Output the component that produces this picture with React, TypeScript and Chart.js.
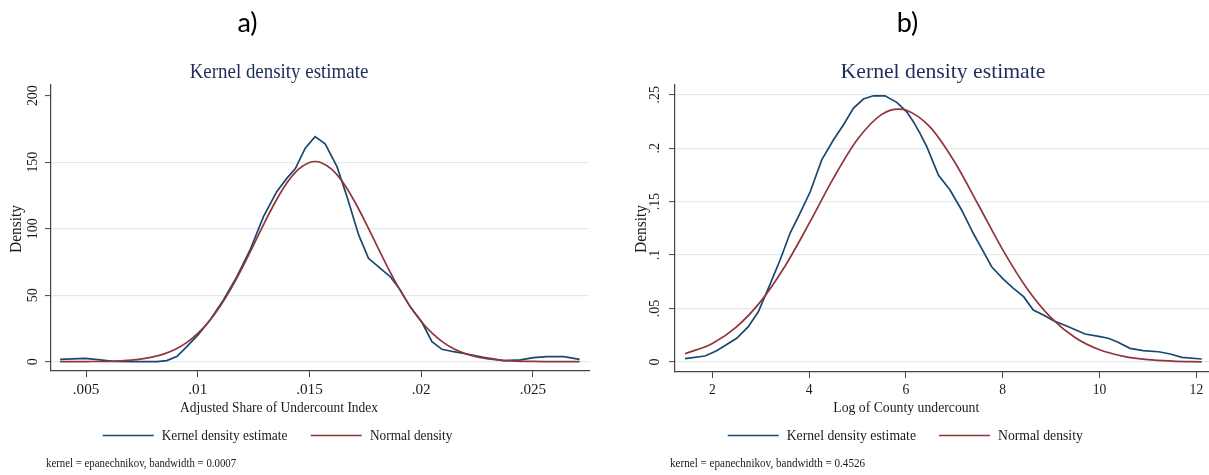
import React, { useEffect, useRef } from "react";
import { Chart, registerables } from "chart.js";

Chart.register(...registerables);

// ---------------- DATA ----------------
const seriesNames = ["Kernel density estimate", "Normal density"];

// Panel a) Adjusted Share of Undercount Index
const aKdeX = [0.00384, 0.00496, 0.00563, 0.00622, 0.00712, 0.00817, 0.00861, 0.00906, 0.00951, 0.0100, 0.01055, 0.01115, 0.01175, 0.01234, 0.01294, 0.01354, 0.01399, 0.01436, 0.01481, 0.01525, 0.0157, 0.01623, 0.01668, 0.0172, 0.01764, 0.01817, 0.01861, 0.01906, 0.0195, 0.02002, 0.02048, 0.02093, 0.02145, 0.02205, 0.02279, 0.02369, 0.02444, 0.02503, 0.02563, 0.02638, 0.02709];
const aKdeY = [1.8, 2.5, 1.3, 0.2, 0.0, 0.0, 0.8, 3.8, 11.3, 20, 31.4, 46.4, 64, 84, 109, 128, 138, 145, 160.5, 169.2, 163.7, 146.6, 124, 95.3, 77.7, 70.2, 64, 54, 41.4, 30, 15, 9.3, 7.5, 5.8, 3.3, 0.8, 1.3, 3.0, 3.8, 3.8, 1.8];
const aNormX = [0.00384, 0.005, 0.006, 0.007, 0.0075, 0.008, 0.0085, 0.009, 0.0095, 0.010, 0.0105, 0.011, 0.0115, 0.012, 0.0125, 0.013, 0.0135, 0.014, 0.0145, 0.015, 0.01525, 0.0155, 0.016, 0.0165, 0.017, 0.0175, 0.018, 0.0185, 0.019, 0.0195, 0.020, 0.0205, 0.021, 0.0215, 0.022, 0.0225, 0.023, 0.0235, 0.024, 0.025, 0.026, 0.02709];
const aNormY = [0.0, 0.1, 0.3, 1.2, 2.1, 3.6, 5.9, 9.3, 14.3, 21.2, 30.2, 41.6, 55.3, 70.9, 87.8, 105.0, 121.0, 134.7, 144.6, 149.8, 150.5, 149.8, 144.6, 134.7, 121.0, 105.0, 87.8, 70.9, 55.3, 41.6, 30.2, 21.2, 14.3, 9.3, 5.9, 3.6, 2.1, 1.2, 0.65, 0.17, 0.04, 0.0];
const aXTicks = [0.005, 0.01, 0.015, 0.02, 0.025];
const aXTickLabels = [".005", ".01", ".015", ".02", ".025"];
const aYTicks = [0, 50, 100, 150, 200];
const aYTickLabels = ["0", "50", "100", "150", "200"];
const aXTitle = "Adjusted Share of Undercount Index";
const aNote = "kernel = epanechnikov, bandwidth = 0.0007";

// Panel b) Log of County undercount
const bKdeX = [1.436, 1.849, 2.09, 2.504, 2.744, 2.95, 3.157, 3.40, 3.605, 3.81, 4.02, 4.26, 4.50, 4.707, 4.913, 5.12, 5.327, 5.568, 5.81, 6.016, 6.153, 6.29, 6.43, 6.67, 6.91, 7.15, 7.39, 7.60, 7.77, 8.01, 8.22, 8.43, 8.63, 8.84, 9.05, 9.32, 9.70, 10.01, 10.18, 10.36, 10.63, 10.90, 11.22, 11.46, 11.70, 12.11];
const bKdeY = [0.0031, 0.0056, 0.0106, 0.0222, 0.033, 0.047, 0.0689, 0.0954, 0.1204, 0.139, 0.159, 0.189, 0.2076, 0.2217, 0.2373, 0.246, 0.249, 0.249, 0.2429, 0.234, 0.2248, 0.2139, 0.2014, 0.1749, 0.1609, 0.1422, 0.1204, 0.1032, 0.0891, 0.0776, 0.0689, 0.0611, 0.0486, 0.044, 0.0386, 0.0337, 0.0262, 0.0237, 0.0222, 0.019, 0.0128, 0.0106, 0.0096, 0.0075, 0.0044, 0.0028];
const bNormX = [1.436, 2.0, 2.5, 3.0, 3.5, 4.0, 4.5, 5.0, 5.5, 5.85, 6.0, 6.5, 7.0, 7.5, 8.0, 8.5, 9.0, 9.5, 10.0, 10.5, 11.0, 11.5, 12.11];
const bNormY = [0.0077, 0.0174, 0.0329, 0.0567, 0.0896, 0.1296, 0.1717, 0.2083, 0.2316, 0.2366, 0.2357, 0.2197, 0.1875, 0.1466, 0.1049, 0.0688, 0.0413, 0.0227, 0.0114, 0.0053, 0.0022, 0.0009, 0.0002];
const bXTicks = [2, 4, 6, 8, 10, 12];
const bXTickLabels = ["2", "4", "6", "8", "10", "12"];
const bYTicks = [0, 0.05, 0.1, 0.15, 0.2, 0.25];
const bYTickLabels = ["0", ".05", ".1", ".15", ".2", ".25"];
const bXTitle = "Log of County undercount";
const bNote = "kernel = epanechnikov, bandwidth = 0.4526";

// ---------------- STYLE ----------------
const SERIF = "'Liberation Serif', 'Times New Roman', serif";
const SANS = "Lato, 'Open Sans', sans-serif";
const BLUE = "rgb(26,71,111)";
const RED = "rgb(144,53,59)";
const GRID = "#e3ebee";
const AXIS = "#444444";
const TEXT = "#1a1a1a";
const TITLE_COLOR = "#1e2d5a";

type TextStyle = { size: number; sx: number };

type PanelCfg = {
  width: number;
  letter: string;
  letterX: number;
  title: string;
  titleX: number;
  titleStyle: TextStyle;
  xTitle: string;
  xTitleX: number;
  xTitleStyle: TextStyle;
  xTickStyle: TextStyle;
  yTickStyle: TextStyle;
  yTickLabelX: number;
  densityX: number;
  legend: { line1: number; text1: number; line2: number; text2: number; style: TextStyle };
  note: string;
  noteX: number;
  noteStyle: TextStyle;
  kdeX: number[];
  kdeY: number[];
  normX: number[];
  normY: number[];
  xTicks: number[];
  xTickLabels: string[];
  yTicks: number[];
  yTickLabels: string[];
  xMin: number;
  xMax: number;
  yMin: number;
  yMax: number;
  padding: { left: number; right: number; top: number; bottom: number };
  hideGridAt: number | null;
};

function drawText(
  ctx: CanvasRenderingContext2D,
  s: string,
  x: number,
  y: number,
  family: string,
  st: TextStyle,
  color: string,
  align: CanvasTextAlign,
  baseline: CanvasTextBaseline,
  rot = 0
) {
  ctx.save();
  ctx.translate(x, y);
  if (rot) ctx.rotate(rot);
  ctx.scale(st.sx, 1);
  ctx.font = `${st.size}px ${family}`;
  ctx.fillStyle = color;
  ctx.textAlign = align;
  ctx.textBaseline = baseline;
  ctx.fillText(s, 0, 0);
  ctx.restore();
}

function makeTextPlugin(cfg: PanelCfg) {
  return {
    id: "stataText",
    afterDraw(chart: any) {
      const ctx: CanvasRenderingContext2D = chart.ctx;
      const xs = chart.scales.x;
      const ys = chart.scales.y;
      // Panel letter
      drawText(ctx, cfg.letter, cfg.letterX, 31.5, SANS, { size: 27, sx: 1 }, "#000", "center", "alphabetic");
      // Title
      drawText(ctx, cfg.title, cfg.titleX, 78, SERIF, cfg.titleStyle, TITLE_COLOR, "center", "alphabetic");
      // Y tick labels (rotated)
      cfg.yTicks.forEach((v, i) => {
        const py = ys.getPixelForValue(v);
        drawText(ctx, cfg.yTickLabels[i], cfg.yTickLabelX, py, SERIF, cfg.yTickStyle, TEXT, "center", "middle", -Math.PI / 2);
      });
      // Y title
      drawText(ctx, "Density", cfg.densityX, 229, SERIF, { size: 16, sx: 0.96 }, TEXT, "center", "middle", -Math.PI / 2);
      // X tick labels
      cfg.xTicks.forEach((v, i) => {
        const px = xs.getPixelForValue(v);
        drawText(ctx, cfg.xTickLabels[i], px, 390, SERIF, cfg.xTickStyle, TEXT, "center", "middle");
      });
      // X title
      drawText(ctx, cfg.xTitle, cfg.xTitleX, 411.5, SERIF, cfg.xTitleStyle, TEXT, "center", "alphabetic");
      // Legend
      const L = cfg.legend;
      const ly = 435.5;
      ctx.save();
      ctx.lineWidth = 1.7;
      ctx.strokeStyle = BLUE;
      ctx.beginPath();
      ctx.moveTo(L.line1, ly);
      ctx.lineTo(L.line1 + 51, ly);
      ctx.stroke();
      ctx.strokeStyle = RED;
      ctx.beginPath();
      ctx.moveTo(L.line2, ly);
      ctx.lineTo(L.line2 + 51, ly);
      ctx.stroke();
      ctx.restore();
      drawText(ctx, seriesNames[0], L.text1, 439.5, SERIF, L.style, TEXT, "left", "alphabetic");
      drawText(ctx, seriesNames[1], L.text2, 439.5, SERIF, L.style, TEXT, "left", "alphabetic");
      // Note
      drawText(ctx, cfg.note, cfg.noteX, 466.5, SERIF, cfg.noteStyle, TEXT, "left", "alphabetic");
    },
  };
}

function Panel({ cfg }: { cfg: PanelCfg }) {
  const ref = useRef<HTMLCanvasElement | null>(null);
  useEffect(() => {
    if (!ref.current) return;
    const toPts = (xs: number[], ys: number[]) => xs.map((x, i) => ({ x, y: ys[i] }));
    const chart = new Chart(ref.current, {
      type: "line",
      data: {
        datasets: [
          {
            label: seriesNames[1],
            data: toPts(cfg.normX, cfg.normY),
            borderColor: RED,
            borderWidth: 1.7,
            pointRadius: 0,
            cubicInterpolationMode: "monotone",
            fill: false,
          },
          {
            label: seriesNames[0],
            data: toPts(cfg.kdeX, cfg.kdeY),
            borderColor: BLUE,
            borderWidth: 1.7,
            pointRadius: 0,
            tension: 0,
            fill: false,
          },
        ],
      },
      options: {
        animation: false,
        responsive: false,
        devicePixelRatio: 1,
        layout: { padding: cfg.padding },
        plugins: {
          legend: { display: false },
          title: { display: false },
          tooltip: { enabled: false },
        },
        scales: {
          x: {
            type: "linear",
            min: cfg.xMin,
            max: cfg.xMax,
            afterBuildTicks: (s: any) => {
              s.ticks = cfg.xTicks.map((v) => ({ value: v }));
            },
            afterFit: (s: any) => {
              s.height = 0;
            },
            ticks: { display: false },
            grid: { drawOnChartArea: false, drawTicks: true, tickLength: 6, tickColor: AXIS, tickWidth: 1 },
            border: { display: true, color: AXIS, width: 1.2 },
          },
          y: {
            type: "linear",
            min: cfg.yMin,
            max: cfg.yMax,
            afterBuildTicks: (s: any) => {
              s.ticks = cfg.yTicks.map((v) => ({ value: v }));
            },
            afterFit: (s: any) => {
              s.width = 0;
            },
            ticks: { display: false },
            grid: {
              drawOnChartArea: true,
              drawTicks: true,
              tickLength: 6,
              tickColor: AXIS,
              tickWidth: 1,
              lineWidth: 1.2,
              color: (c: any) =>
                cfg.hideGridAt !== null && c.tick && c.tick.value === cfg.hideGridAt ? "rgba(0,0,0,0)" : GRID,
            },
            border: { display: true, color: AXIS, width: 1.2 },
          },
        },
      },
      plugins: [makeTextPlugin(cfg)],
    } as any);
    return () => chart.destroy();
  }, [cfg]);
  return (
    <canvas
      ref={ref}
      width={cfg.width}
      height={475}
      style={{ width: cfg.width, height: 475, display: "block" }}
    />
  );
}

const panelA: PanelCfg = {
  width: 604,
  letter: "a)",
  letterX: 247.5,
  title: "Kernel density estimate",
  titleX: 279,
  titleStyle: { size: 21.5, sx: 0.88 },
  xTitle: aXTitle,
  xTitleX: 279,
  xTitleStyle: { size: 15, sx: 0.897 },
  xTickStyle: { size: 15.2, sx: 1 },
  yTickStyle: { size: 15, sx: 0.93 },
  yTickLabelX: 33.5,
  densityX: 17,
  legend: { line1: 102.7, text1: 161.7, line2: 310.7, text2: 370, style: { size: 15, sx: 0.887 } },
  note: aNote,
  noteX: 46,
  noteStyle: { size: 12.2, sx: 0.887 },
  kdeX: aKdeX,
  kdeY: aKdeY,
  normX: aNormX,
  normY: aNormY,
  xTicks: aXTicks,
  xTickLabels: aXTickLabels,
  yTicks: aYTicks,
  yTickLabels: aYTickLabels,
  xMin: 0.00343,
  xMax: 0.02751,
  yMin: -7,
  yMax: 208,
  padding: { left: 51, right: 15, top: 85, bottom: 104 },
  hideGridAt: 200,
};

const panelB: PanelCfg = {
  width: 605,
  letter: "b)",
  letterX: 907.5 - 604,
  title: "Kernel density estimate",
  titleX: 943 - 604,
  titleStyle: { size: 21.7, sx: 1 },
  xTitle: bXTitle,
  xTitleX: 906.3 - 604,
  xTitleStyle: { size: 15, sx: 0.915 },
  xTickStyle: { size: 14.8, sx: 0.92 },
  yTickStyle: { size: 15, sx: 0.93 },
  yTickLabelX: 655.5 - 604,
  densityX: 641.7 - 604,
  legend: { line1: 727.7 - 604, text1: 786.7 - 604, line2: 939 - 604, text2: 998 - 604, style: { size: 15, sx: 0.913 } },
  note: bNote,
  noteX: 670 - 604,
  noteStyle: { size: 12.2, sx: 0.91 },
  kdeX: bKdeX,
  kdeY: bKdeY,
  normX: bNormX,
  normY: bNormY,
  xTicks: bXTicks,
  xTickLabels: bXTickLabels,
  yTicks: bYTicks,
  yTickLabels: bYTickLabels,
  xMin: 1.229,
  xMax: 12.26,
  yMin: -0.00935,
  yMax: 0.2591,
  padding: { left: 71, right: 0, top: 85, bottom: 103 },
  hideGridAt: null,
};

export default function App() {
  return (
    <div style={{ position: "absolute", left: 0, top: 0, width: 1209, height: 475, background: "#fff", display: "flex" }}>
      <Panel cfg={panelA} />
      <Panel cfg={panelB} />
    </div>
  );
}
